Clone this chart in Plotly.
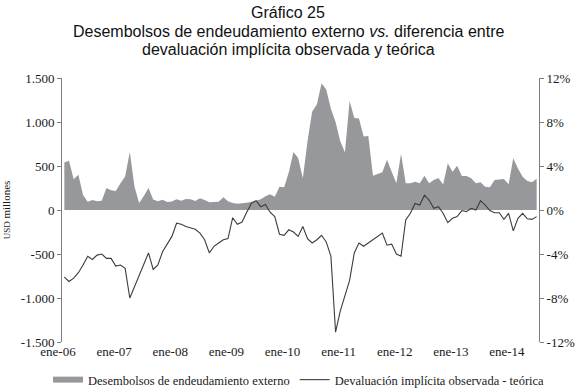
import plotly.graph_objects as go

# Monthly data, Jan 2006 - Jun 2014 (102 months)
months = list(range(102))

desembolsos = [
    540, 560, 350, 400, 170, 95, 115, 100, 105, 250, 225, 215,
    305, 380, 660, 265, 80, 160, 250, 120, 100, 117, 90, 98,
    121, 106, 125, 121, 102, 133, 114, 87, 91, 95, 145, 100,
    80, 72, 76, 83, 95, 106, 121, 155, 178, 150, 265, 258,
    430, 660, 590, 360, 780, 1120, 1200, 1440, 1370, 1150, 1000, 780,
    655, 1240, 1045, 1040, 835, 840, 390, 409, 428, 570, 436, 303,
    640, 303, 303, 322, 303, 390, 305, 340, 364, 290, 530, 436,
    504, 386, 386, 360, 303, 314, 265, 258, 341, 348, 352, 292,
    587, 473, 379, 330, 314, 356,
]

devaluacion = [
    -6.1, -6.5, -6.2, -5.7, -5.0, -4.2, -4.5, -4.1, -4.0, -4.4, -4.4, -5.1,
    -5.0, -5.3, -8.0, -7.0, -6.0, -5.0, -3.9, -5.4, -5.0, -3.8, -3.1, -2.4,
    -1.2, -1.3, -1.5, -1.6, -1.75, -2.1, -2.7, -3.9, -3.3, -3.0, -2.7, -2.6,
    -0.7, -1.3, -1.1, -0.2, 0.6, 0.85, 0.3, 0.5, -0.2, -0.6, -2.2, -2.3,
    -1.8, -2.0, -2.4, -1.5, -2.6, -3.0, -2.7, -2.3, -2.9, -4.2, -11.1, -9.2,
    -7.7, -6.4, -3.9, -3.0, -3.3, -3.0, -2.7, -2.4, -2.1, -3.2, -3.1, -4.0,
    -4.2, -0.9, -0.3, 0.6, 0.45, 1.35, 0.9, 0.15, 0.3, -0.3, -1.15, -0.75,
    -0.6, -0.05, -0.15, 0.15, 0.0, 0.85, 0.45, -0.05, -0.25, -0.25, -0.85, -0.3,
    -1.9, -0.75, -0.3, -0.8, -0.85, -0.6,
]

year_labels = ["ene-06", "ene-07", "ene-08", "ene-09", "ene-10",
               "ene-11", "ene-12", "ene-13", "ene-14"]
year_ticks = [12 * k - 0.5 for k in range(len(year_labels))]

left_vals = [-1500, -1000, -500, 0, 500, 1000, 1500]
left_text = ["-1.500", "-1.000", "-500", "0", "500", "1.000", "1.500"]
right_vals = [-12, -8, -4, 0, 4, 8, 12]
right_text = ["-12%", "-8%", "-4%", "0%", "4%", "8%", "12%"]

title_lines = [
    "Gráfico 25",
    "Desembolsos de endeudamiento externo <i>vs.</i> diferencia entre",
    "devaluación implícita observada y teórica",
]

serif = "Liberation Serif, Times New Roman, serif"
sans = "Liberation Sans, Arial, sans-serif"
axis_col = "#7f7f7f"
xrange = [-0.5, 101.5]

fig = go.Figure()
fig.add_trace(go.Scatter(
    x=months, y=desembolsos, name="Desembolsos de endeudamiento externo",
    mode="none", fill="tozeroy", fillcolor="#97989b", yaxis="y",
))
fig.add_trace(go.Scatter(
    x=months, y=devaluacion, name="Devaluación implícita observada - teórica",
    mode="lines", line=dict(color="#3c3c3c", width=1.1), yaxis="y2",
))

# title lines as centred annotations (figure centre)
title_y_px = [12, 31, 49]
for txt, ypx in zip(title_lines, title_y_px):
    fig.add_annotation(
        text=txt, xref="paper", yref="paper",
        x=(288 - 62) / 477, y=1 + (78 - ypx) / 264,
        xanchor="center", yanchor="middle", showarrow=False,
        font=dict(family=sans, size=16, color="#111111"),
    )

fig.update_layout(
    width=576, height=389,
    margin=dict(l=62, r=37, t=78, b=47, autoexpand=False),
    paper_bgcolor="white", plot_bgcolor="white",
    font=dict(family=serif, size=13, color="#1a1a1a"),
    showlegend=True,
    legend=dict(orientation="h", xref="paper", x=(48 - 62) / 477, xanchor="left",
                yref="paper", y=-(380 - 342) / 264, yanchor="middle",
                font=dict(family=serif, size=12.5), itemwidth=30,
                tracegroupgap=0, bgcolor="rgba(0,0,0,0)"),
    xaxis=dict(range=xrange, tickvals=year_ticks, ticktext=year_labels,
               showline=False, ticks="", showgrid=False, zeroline=False,
               ticklabelshift=-4, tickfont=dict(family=serif, size=13)),
    xaxis2=dict(range=xrange, overlaying="x", anchor="free", position=0.5,
                side="bottom", tickvals=year_ticks, showticklabels=False,
                ticks="outside", ticklen=4, tickcolor=axis_col,
                showline=True, linecolor=axis_col, linewidth=1,
                showgrid=False, zeroline=False),
    yaxis=dict(range=[-1500, 1500], tickvals=left_vals, ticktext=left_text,
               showline=True, linecolor=axis_col, linewidth=1,
               ticks="outside", ticklen=4, tickcolor=axis_col,
               showgrid=False, zeroline=False,
               title=dict(text="<span style='font-size:9px'>USD</span> millones",
                          font=dict(family=serif, size=11), standoff=8)),
    yaxis2=dict(range=[-12, 12], tickvals=right_vals, ticktext=right_text,
                overlaying="y", side="right", anchor="x",
                showline=True, linecolor=axis_col, linewidth=1,
                ticks="outside", ticklen=4, tickcolor=axis_col,
                showgrid=False, zeroline=False),
)

fig.write_html("out.html", config={"displayModeBar": False},
               post_script="document.body.style.margin='0';")
